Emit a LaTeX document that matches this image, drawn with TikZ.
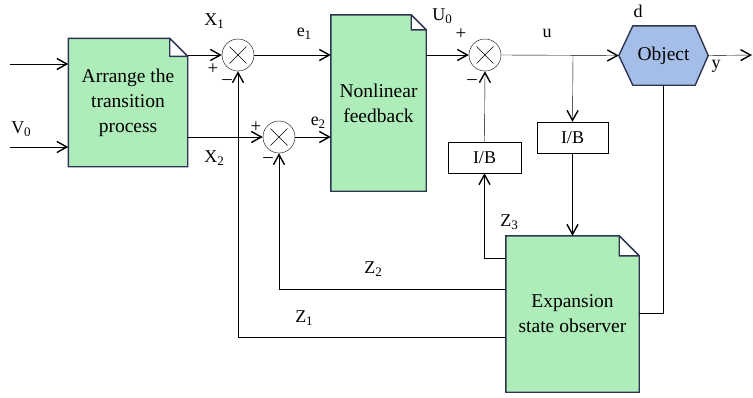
\documentclass[tikz,border=0pt]{standalone}
\usepackage{fontspec}
\setmainfont{Liberation Serif}
\usetikzlibrary{calc,arrows.meta}
\pgfdeclarelayer{bg}\pgfsetlayers{bg,main}
\definecolor{gfill}{HTML}{AEEDB9}
\definecolor{bfill}{HTML}{A5BEE8}
\definecolor{edgec}{HTML}{2E3552}
\newcommand{\docshape}[2]{%
 \begin{pgfonlayer}{bg}
 \filldraw[fill=gfill, draw=edgec, line width=1.4pt] (#1.north west) -- ($(#1.north east)+(-#2,0)$) -- ($(#1.north east)+(0,-#2)$) -- (#1.south east) -- (#1.south west) -- cycle;
 \filldraw[fill=white, draw=edgec, line width=1.4pt, line join=round] ($(#1.north east)+(-#2,0)$) -- ($(#1.north east)+(0,-#2)$) -- ($(#1.north east)+(-#2,-#2)$) -- cycle;
 \end{pgfonlayer}}
\newcommand{\sumcross}[1]{%
 \draw ($(#1)+(-8.5pt,-8.5pt)$) -- ($(#1)+(8.5pt,8.5pt)$);
 \draw ($(#1)+(-8.5pt,8.5pt)$) -- ($(#1)+(8.5pt,-8.5pt)$);}
\newcommand{\sbs}[2]{#1\raisebox{-0.35ex}{\fontsize{13}{14}\selectfont #2}}
\tikzset{
 every node/.style={font=\fontsize{18}{22}\selectfont},
 blk/.style={inner sep=0pt, align=center, font=\fontsize{19.5}{25}\selectfont},
 sumc/.style={circle, draw, minimum size=32pt, inner sep=0pt},
 ib/.style={draw, minimum height=31pt, inner sep=0pt},
 lbl/.style={inner sep=0pt},
 sgn/.style={inner sep=0pt, font=\fontsize{19}{20}\selectfont},
 arr/.style={-{Straight Barb[length=10pt,width=11pt,line width=1.4pt]}},
}
\begin{document}
\begin{tikzpicture}[x=1pt,y=-1pt,line width=1.4pt, color=black]
\useasboundingbox (0,0) rectangle (753,397);
% blocks
\node[blk, minimum width=118pt, minimum height=127pt] (A) at (128,102.5) {Arrange the\\transition\\process};
\docshape{A}{18pt}
\node[blk, minimum width=95pt, minimum height=176pt] (NF) at (378.5,103) {Nonlinear\\feedback};
\docshape{NF}{15pt}
\node[blk, minimum width=133pt, minimum height=156pt] (ESO) at (572.5,314) {Expansion\\state observer};
\docshape{ESO}{20pt}
\node[blk, minimum width=89pt, minimum height=59pt] (OBJ) at (663.5,55.5) {Object};
\begin{pgfonlayer}{bg}
\filldraw[fill=bfill, draw=edgec, line width=1.4pt] (OBJ.west) -- ($(OBJ.north west)+(14pt,0)$) -- ($(OBJ.north east)+(-13pt,0)$) -- (OBJ.east) -- ($(OBJ.south east)+(-13pt,0)$) -- ($(OBJ.south west)+(14pt,0)$) -- cycle;
\end{pgfonlayer}
\node[sumc] (s1) at (238,55) {};
\node[sumc] (s2) at (279,137) {};
\node[sumc] (s3) at (485,55) {};
\sumcross{s1}\sumcross{s2}\sumcross{s3}
\node[ib, minimum width=73pt] (ib1) at (484.5,157.5) {I/B};
\node[ib, minimum width=71pt] (ib2) at (572.5,137.5) {I/B};
% coordinates
\coordinate (in1) at (10,64);
\coordinate (in2) at (10,147);
\coordinate (out) at (752,55);
\coordinate (j) at (573,55);
\coordinate (z3) at (484.5,258);
\coordinate (z2) at (279,289);
\coordinate (z1) at (238,337);
\coordinate (yb) at (663,313);
% connectors
\draw[arr] (in1) -- (in1 -| A.west);
\draw[arr] (in2) -- (in2 -| A.west);
\draw[arr] (A.east |- s1) -- (s1.west);
\draw[arr] (A.east |- s2) -- (s2.west);
\draw[arr] (s1.east) -- (NF.west |- s1);
\draw[arr] (s2.east) -- (NF.west |- s2);
\draw[arr] (NF.east |- s3) -- (s3.west);
\draw[arr] (s3.east) -- (OBJ.west);
\draw[arr] (OBJ.east) -- (out);
\draw[arr] (j) -- (ib2.north);
\draw[arr] (ib2.south) -- (ib2.south |- ESO.north);
\draw[arr] (ESO.west |- z3) -- (z3) -- (ib1.south);
\draw[arr] (ib1.north) -- (s3.south);
\draw[arr] (ESO.west |- z2) -- (z2) -- (s2.south);
\draw[arr] (ESO.west |- z1) -- (z1) -- (s1.south);
\draw (OBJ.south -| yb) -- (yb) -- (ESO.east |- yb);
% labels
\node[lbl] (lv0) at (21,129) {\sbs{V}{0}};
\node[lbl] (lx1) at (214,21) {\sbs{X}{1}};
\node[lbl] (lx2) at (214,158) {\sbs{X}{2}};
\node[lbl] (le1) at (304,34) {\sbs{e}{1}};
\node[lbl] (le2) at (318,123) {\sbs{e}{2}};
\node[lbl] (lu0) at (442,16) {\sbs{U}{0}};
\node[lbl] (lu) at (547,33) {u};
\node[lbl] (ld) at (638,11) {d};
\node[lbl] (ly) at (716,66) {y};
\node[lbl] (lz1) at (304,318) {\sbs{Z}{1}};
\node[lbl] (lz2) at (373,269) {\sbs{Z}{2}};
\node[lbl] (lz3) at (509,222) {\sbs{Z}{3}};
\node[sgn] (p1) at (213,69) {+};
\node[sgn] (m1) at (227,82) {\textendash};
\node[sgn] (p2) at (256,127) {+};
\node[sgn] (m2) at (268,160) {\textendash};
\node[sgn] (p3) at (461,34) {+};
\node[sgn] (m3) at (472,82) {\textendash};
\end{tikzpicture}
\end{document}
